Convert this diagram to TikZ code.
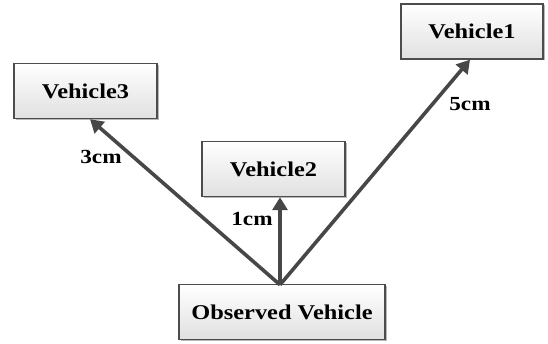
\documentclass[tikz,border=0pt]{standalone}
\usepackage{fontspec}
\setmainfont[FakeStretch=1.16]{Liberation Serif}
\usetikzlibrary{shadows,arrows.meta}
\begin{document}
\begin{tikzpicture}[x=1pt,y=1pt,
  vbox/.style={draw=black!70, line width=1.4pt, top color=white, bottom color=black!12,
    drop shadow={shadow xshift=1.5pt, shadow yshift=-1.5pt, fill=black!35, opacity=0.8},
    minimum height=55pt, inner sep=0pt, font=\fontsize{21}{24}\selectfont\bfseries},
  conn/.style={draw=black!72, line width=3.6pt, -{Triangle[length=13pt,width=15pt]}},
  lbl/.style={font=\fontsize{20}{24}\selectfont\bfseries, inner sep=0pt}]
\useasboundingbox (0,0) rectangle (548,343);
\node[vbox, minimum width=142pt] (v1) at (472,311.5) {Vehicle1};
\node[vbox, minimum width=143pt] (v3) at (85.5,252) {Vehicle3};
\node[vbox, minimum width=143pt] (v2) at (273.5,174) {Vehicle2};
\node[vbox, minimum width=206pt] (obs) at (282,31) {Observed Vehicle};
\coordinate (o) at ([xshift=-2pt,yshift=-1pt]obs.north);
\draw[conn] (o) -- ([xshift=4.5pt]v3.south);
\draw[conn] (o) -- ([xshift=6.5pt]v2.south);
\draw[conn] (o) -- ([xshift=-2pt]v1.south);
\node[lbl] (l3) at (101,186) {3cm};
\node[lbl] (l2) at (252,124) {1cm};
\node[lbl] (l1) at (470,239) {5cm};
\end{tikzpicture}
\end{document}
